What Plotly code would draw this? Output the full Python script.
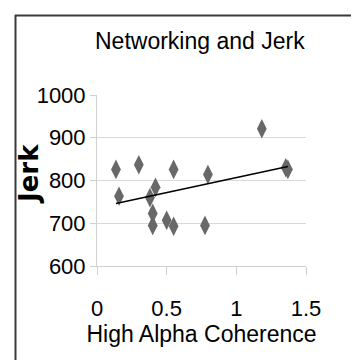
import plotly.graph_objects as go
import numpy as np

# High alpha coherence vs jerk
coherence = [0.136, 0.158, 0.30, 0.38, 0.42, 0.40, 0.40, 0.50, 0.55, 0.55,
             0.775, 0.796, 1.183, 1.355, 1.37]
jerk = [826, 763, 837, 760, 784, 723, 695, 707, 693, 826,
        695, 814, 921, 830, 826]

x_ticks = [0, 0.5, 1, 1.5]
x_tick_labels = ['0', '0.5', '1', '1.5']
y_ticks = [600, 700, 800, 900, 1000]

# linear trendline over the data range
slope, intercept = np.polyfit(coherence, jerk, 1)
trend_x = [min(coherence), max(coherence)]
trend_y = [slope * v + intercept for v in trend_x]

W, H = 359, 360
L, R, T, B = 89, 61, 87, 102
pw, ph = W - L - R, H - T - B

def px_x(p):
    return (p - L) / pw

def px_y(p):
    return (H - B - p) / ph

font_main = 'Liberation Sans, Arial, sans-serif'

fig = go.Figure()

fig.add_trace(go.Scatter(
    x=coherence, y=jerk,
    mode='markers',
    marker=dict(symbol='diamond-tall', size=14, color='#686868', line=dict(width=0)),
    showlegend=False
))

fig.add_trace(go.Scatter(
    x=trend_x, y=trend_y,
    mode='lines',
    line=dict(color='black', width=1.6),
    showlegend=False
))

# chart frame (top and left edges only visible)
fig.add_shape(type='line', xref='paper', yref='paper',
              x0=px_x(7), x1=px_x(W + 5), y0=px_y(7.5), y1=px_y(7.5),
              line=dict(color='#3a3a3a', width=2))
fig.add_shape(type='line', xref='paper', yref='paper',
              x0=px_x(7.5), x1=px_x(7.5), y0=px_y(7), y1=px_y(H + 5),
              line=dict(color='#3a3a3a', width=2))

# rotated y title placed by hand
fig.add_annotation(
    text='Jerk', xref='paper', yref='paper',
    x=px_x(21), y=px_y(166), xanchor='center', yanchor='middle',
    textangle=-90, showarrow=False,
    font=dict(family='DejaVu Sans', size=26, color='black', weight='bold')
)

fig.update_layout(
    width=W, height=H,
    margin=dict(l=L, r=R, t=T, b=B),
    paper_bgcolor='white',
    plot_bgcolor='white',
    title=dict(
        text='Networking and Jerk',
        font=dict(family=font_main, size=23, color='black'),
        xref='container', x=87 / W, xanchor='left',
        yref='container', y=1 - 33 / H, yanchor='middle'
    ),
    xaxis=dict(
        range=[0, 1.5],
        tickvals=x_ticks, ticktext=x_tick_labels,
        showgrid=False, zeroline=False,
        showline=True, linecolor='#d0d0d0', linewidth=1,
        ticks='outside', ticklen=8, tickcolor='#d0d0d0',
        ticklabelstandoff=15,
        tickfont=dict(family=font_main, size=22, color='black'),
        automargin=False,
        title=dict(text='High Alpha Coherence',
                   font=dict(family=font_main, size=23, color='black'),
                   standoff=4)
    ),
    yaxis=dict(
        range=[600, 1000],
        tickvals=y_ticks,
        showgrid=True, gridcolor='#d9d9d9', gridwidth=1,
        zeroline=False,
        showline=True, linecolor='#d0d0d0', linewidth=1,
        ticks='outside', ticklen=6, tickcolor='#d0d0d0',
        tickfont=dict(family=font_main, size=22, color='black'),
        automargin=False
    )
)

fig.write_html('out.html')
